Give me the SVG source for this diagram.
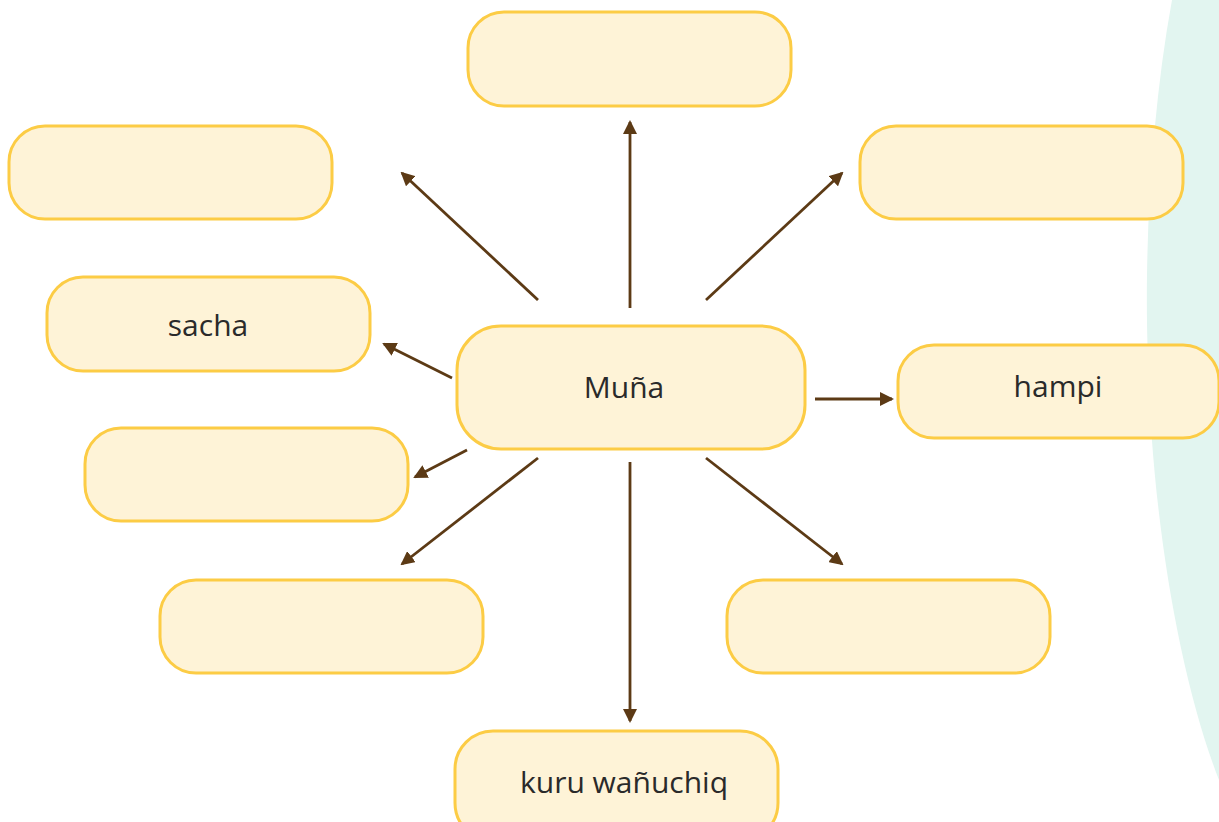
<svg xmlns="http://www.w3.org/2000/svg" width="1219" height="822" viewBox="0 0 1219 822">
<defs>
<style>
.box{fill:#FEF3D7;stroke:#FCCC45;stroke-width:3}
.lbl{font-family:"Open Sans",Lato,"Liberation Sans",sans-serif;font-weight:400;font-size:30px;fill:#2a2a2a;text-anchor:middle;dominant-baseline:central}
.arr{stroke:#5C3A15;stroke-width:2.8;fill:none;marker-end:url(#ah)}
</style>
<marker id="ah" viewBox="0 0 14 14" refX="12" refY="7" markerWidth="14" markerHeight="14" markerUnits="userSpaceOnUse" orient="auto">
<path d="M0,0 L14,7 L0,14 Z" fill="#5C3A15"/>
</marker>
</defs>
<rect width="1219" height="822" fill="#ffffff"/>
<path d="M1172,0 C1150,120 1144,260 1148,360 C1152,520 1180,680 1219,780 L1219,0 Z" fill="#E2F5F0"/>
<g id="connectors">
<line class="arr" x1="630" y1="308" x2="630" y2="122"/>
<line class="arr" x1="538" y1="300" x2="402" y2="173"/>
<line class="arr" x1="706" y1="300" x2="842" y2="173"/>
<line class="arr" x1="452" y1="378" x2="384" y2="344"/>
<line class="arr" x1="815" y1="399" x2="892" y2="399"/>
<line class="arr" x1="467" y1="450" x2="415" y2="477"/>
<line class="arr" x1="538" y1="458" x2="402" y2="564"/>
<line class="arr" x1="706" y1="458" x2="842" y2="564"/>
<line class="arr" x1="630" y1="462" x2="630" y2="721"/>
</g>
<g id="node-top"><rect class="box" x="468" y="12" width="323" height="94" rx="36"/></g>
<g id="node-topleft"><rect class="box" x="9" y="126" width="323" height="93" rx="36"/></g>
<g id="node-topright"><rect class="box" x="860" y="126" width="323" height="93" rx="36"/></g>
<g id="node-sacha"><rect class="box" x="47" y="277" width="323" height="94" rx="36"/><text class="lbl" x="208" y="324">sacha</text></g>
<g id="node-muna"><rect class="box" x="457" y="326" width="348" height="123" rx="44"/><text class="lbl" x="624" y="386">Muña</text></g>
<g id="node-hampi"><rect class="box" x="898" y="345" width="321" height="93" rx="36"/><text class="lbl" x="1058" y="385">hampi</text></g>
<g id="node-leftmid"><rect class="box" x="85" y="428" width="323" height="93" rx="36"/></g>
<g id="node-bottomleft"><rect class="box" x="160" y="580" width="323" height="93" rx="36"/></g>
<g id="node-bottomright"><rect class="box" x="727" y="580" width="323" height="93" rx="36"/></g>
<g id="node-kuru"><rect class="box" x="455" y="731" width="323" height="110" rx="38"/><text class="lbl" x="624" y="781">kuru wañuchiq</text></g>
</svg>
